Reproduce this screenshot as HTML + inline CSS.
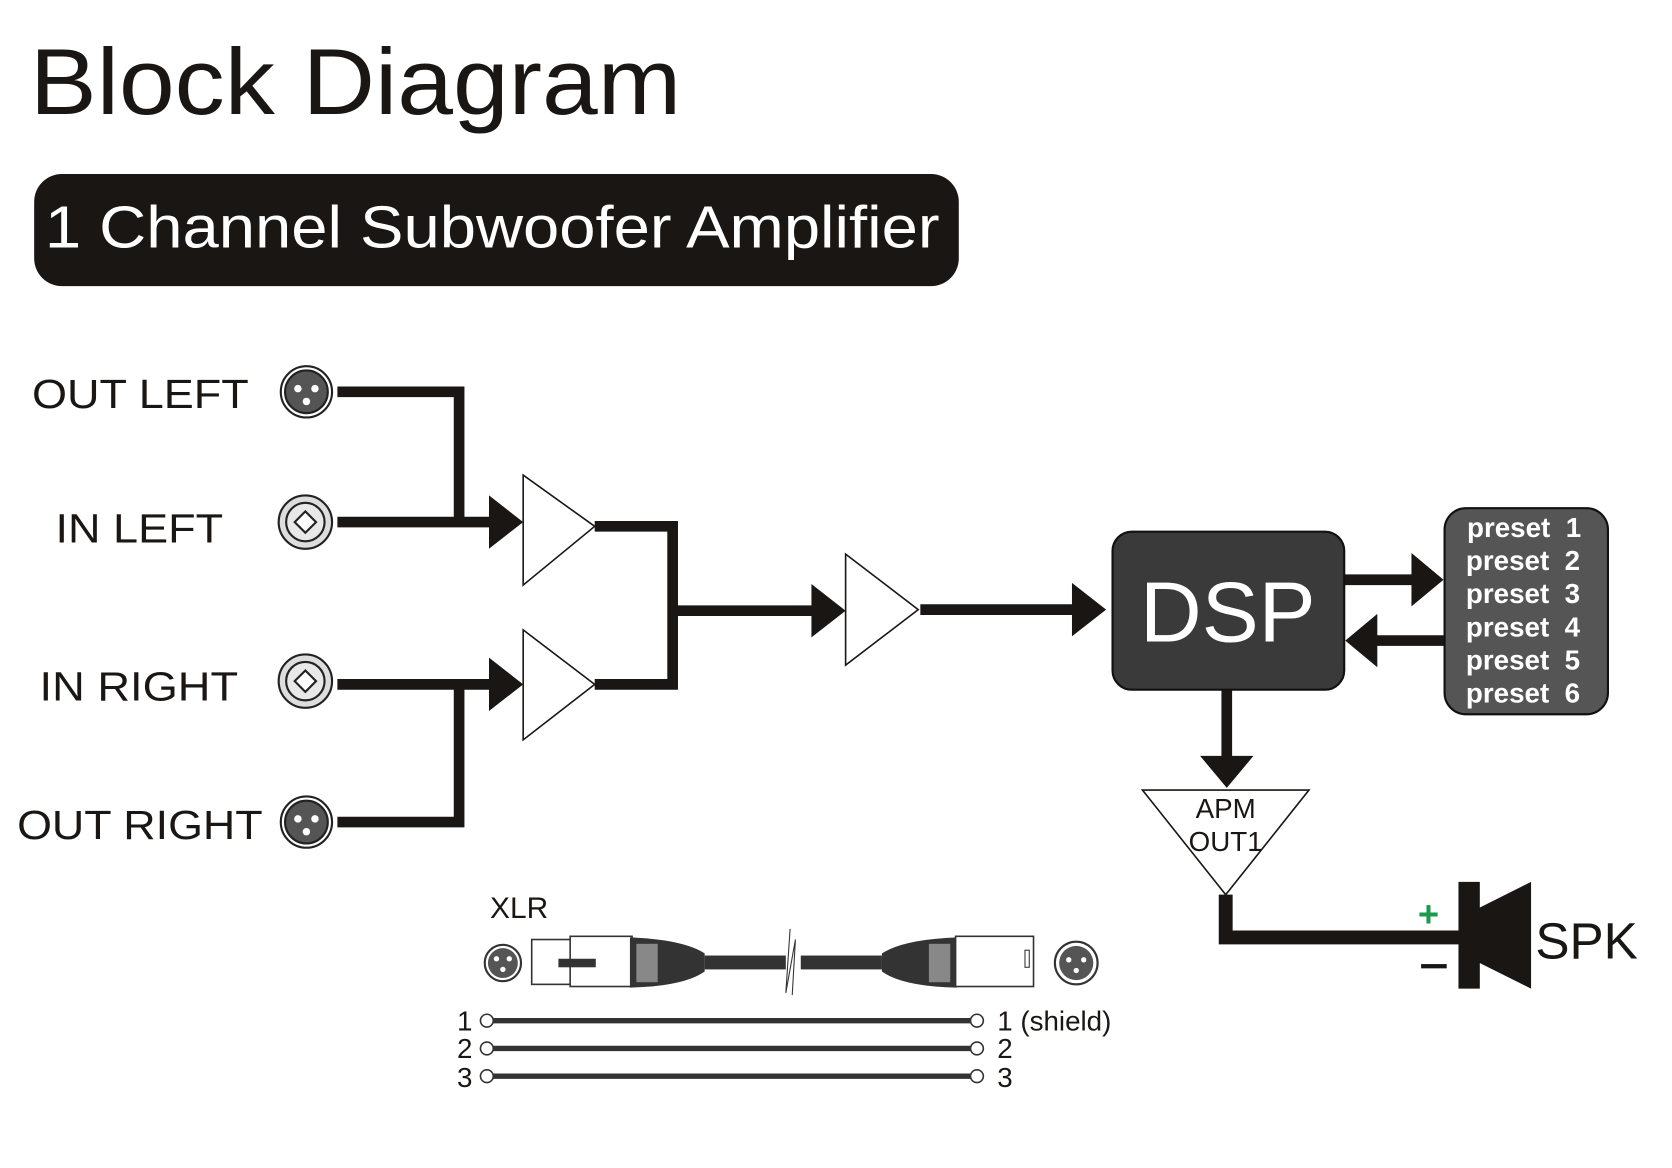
<!DOCTYPE html>
<html><head><meta charset="utf-8"><style>html,body{margin:0;padding:0;background:#fff}svg{display:block}</style></head>
<body>
<svg width="1672" height="1168" viewBox="0 0 1566 1094" preserveAspectRatio="none" xmlns="http://www.w3.org/2000/svg" font-family="Liberation Sans, sans-serif">
<rect width="1566" height="1094" fill="#fff"/>
<text x="28" y="107" font-size="88" fill="#1a1614" textLength="610" lengthAdjust="spacingAndGlyphs">Block Diagram</text>
<rect x="32" y="163" width="866" height="105" rx="26" fill="#1a1614"/>
<text x="42" y="232" font-size="56" fill="#fff" textLength="838" lengthAdjust="spacingAndGlyphs">1 Channel Subwoofer Amplifier</text>
<g font-size="38" fill="#1a1614">
<text x="30" y="382" textLength="203" lengthAdjust="spacingAndGlyphs">OUT LEFT</text>
<text x="52" y="508" textLength="157" lengthAdjust="spacingAndGlyphs">IN LEFT</text>
<text x="37" y="656" textLength="186" lengthAdjust="spacingAndGlyphs">IN RIGHT</text>
<text x="16" y="786" textLength="230" lengthAdjust="spacingAndGlyphs">OUT RIGHT</text>
</g>
<g stroke="#222" stroke-width="2">
<circle cx="287" cy="367" r="24" fill="#fff"/><circle cx="287" cy="367" r="20" fill="#555"/>
<circle cx="287" cy="770" r="24" fill="#fff"/><circle cx="287" cy="770" r="20" fill="#555"/>
<circle cx="286" cy="489" r="25" fill="#ddd"/><circle cx="286" cy="489" r="18" fill="#e8e8e8"/>
<path d="M286 479 L296 489 L286 499 L276 489Z" fill="#fff"/>
<circle cx="286" cy="638" r="25" fill="#ddd"/><circle cx="286" cy="638" r="18" fill="#e8e8e8"/>
<path d="M286 628 L296 638 L286 648 L276 638Z" fill="#fff"/>
</g>
<g fill="#fff"><circle cx="279" cy="364" r="3.5"/><circle cx="295" cy="364" r="3.5"/><circle cx="287" cy="376" r="3.5"/>
<circle cx="279" cy="767" r="3.5"/><circle cx="295" cy="767" r="3.5"/><circle cx="287" cy="779" r="3.5"/></g>
<g stroke="#1a1614" stroke-width="10" fill="none">
<polyline points="316,367 430,367 430,489"/>
<line x1="316" y1="489" x2="465" y2="489"/>
<line x1="316" y1="641" x2="465" y2="641"/>
<polyline points="316,770 430,770 430,641"/>
<polyline points="557,493 630,493 630,641 557,641"/>
<line x1="630" y1="572" x2="766" y2="572"/>
<line x1="862" y1="571" x2="1008" y2="571"/>
<line x1="1259" y1="543" x2="1326" y2="543"/>
<line x1="1352" y1="600" x2="1288" y2="600"/>
<line x1="1149" y1="646" x2="1149" y2="712"/>
<polyline points="1148,838 1148,878 1368,878" stroke-width="13"/>
</g>
<g fill="#1a1614">
<path d="M458 464 L490 489 L458 514Z"/>
<path d="M458 616 L490 641 L458 666Z"/>
<path d="M760 547 L792 572 L760 597Z"/>
<path d="M1004 546 L1036 571 L1004 596Z"/>
<path d="M1322 518 L1352 543 L1322 568Z"/>
<path d="M1290 575 L1260 600 L1290 625Z"/>
<path d="M1124 708 L1149 738 L1174 708Z"/>
</g>
<g fill="#fff" stroke="#1a1614" stroke-width="1.5">
<path d="M490 445 L490 548 L557 493Z"/>
<path d="M490 590 L490 693 L557 641Z"/>
<path d="M792 519 L792 623 L860 571Z"/>
<path d="M1070 740 L1226 740 L1148 838Z"/>
</g>
<rect x="1042" y="498" width="217" height="148" rx="18" fill="#3a3a3a" stroke="#111" stroke-width="2"/>
<text x="1150" y="601" font-size="80" fill="#fff" text-anchor="middle">DSP</text>
<rect x="1353" y="476" width="153" height="193" rx="20" fill="#555" stroke="#111" stroke-width="2"/>
<g font-size="26" fill="#fff" font-weight="600">
<text x="1374" y="503">preset&#160; 1</text><text x="1373" y="534">preset&#160; 2</text><text x="1373" y="565">preset&#160; 3</text>
<text x="1373" y="596">preset&#160; 4</text><text x="1373" y="627">preset&#160; 5</text><text x="1373" y="658">preset&#160; 6</text>
</g>
<g font-size="26" fill="#1a1614" text-anchor="middle"><text x="1148" y="766">APM</text><text x="1148" y="797">OUT1</text></g>
<rect x="1366" y="826" width="20" height="100" fill="#1a1614"/>
<path d="M1384 851 L1434 826 L1434 926 L1384 901Z" fill="#1a1614"/>
<text x="1328" y="868" font-size="34" fill="#1a9a4a" font-weight="bold">+</text>
<rect x="1331" y="903" width="24" height="4" fill="#1a1614"/>
<text x="1438" y="898" font-size="48" fill="#1a1614">SPK</text>
<text x="459" y="860" font-size="28" fill="#1a1614">XLR</text>
<circle cx="471" cy="902" r="17" fill="#fff" stroke="#333" stroke-width="2"/><circle cx="471" cy="902" r="14" fill="#555"/>
<g fill="#fff"><circle cx="465" cy="898" r="2.5"/><circle cx="477" cy="898" r="2.5"/><circle cx="471" cy="908" r="2.5"/></g>
<rect x="498" y="880" width="40" height="42" fill="#fff" stroke="#333" stroke-width="1.5"/>
<rect x="534" y="877" width="58" height="47" fill="#fff" stroke="#333" stroke-width="1.5"/>
<rect x="523" y="898" width="35" height="8" fill="#333"/>
<path d="M590 878 Q640 880 660 893 L660 910 Q640 924 590 925Z" fill="#333"/>
<rect x="596" y="884" width="20" height="36" fill="#888"/>
<rect x="660" y="895" width="76" height="13" fill="#333"/>
<path d="M740 870 L736 930 L745 880 L742 932" stroke="#333" fill="none" stroke-width="1"/>
<rect x="750" y="895" width="76" height="13" fill="#333"/>
<path d="M896 878 Q846 880 826 893 L826 910 Q846 924 896 925Z" fill="#333"/>
<rect x="870" y="884" width="20" height="36" fill="#888"/>
<rect x="895" y="877" width="73" height="47" fill="#fff" stroke="#333" stroke-width="1.5"/>
<rect x="960" y="890" width="4" height="16" fill="#fff" stroke="#333"/>
<circle cx="1008" cy="902" r="20" fill="#fff" stroke="#333" stroke-width="2"/><circle cx="1008" cy="902" r="16" fill="#555"/>
<g fill="#fff"><circle cx="1001" cy="899" r="2.5"/><circle cx="1015" cy="899" r="2.5"/><circle cx="1008" cy="909" r="2.5"/></g>
<g stroke="#333" stroke-width="5"><line x1="462" y1="956" x2="909" y2="956"/><line x1="462" y1="982" x2="909" y2="982"/><line x1="462" y1="1008" x2="909" y2="1008"/></g>
<g fill="#fff" stroke="#333" stroke-width="1.5">
<circle cx="456" cy="956" r="6"/><circle cx="456" cy="982" r="6"/><circle cx="456" cy="1008" r="6"/>
<circle cx="915" cy="956" r="6"/><circle cx="915" cy="982" r="6"/><circle cx="915" cy="1008" r="6"/></g>
<g font-size="26" fill="#1a1614">
<text x="428" y="965">1</text><text x="428" y="991">2</text><text x="428" y="1018">3</text>
<text x="934" y="965">1 (shield)</text><text x="934" y="991">2</text><text x="934" y="1018">3</text>
</g>
</svg>
</body></html>
